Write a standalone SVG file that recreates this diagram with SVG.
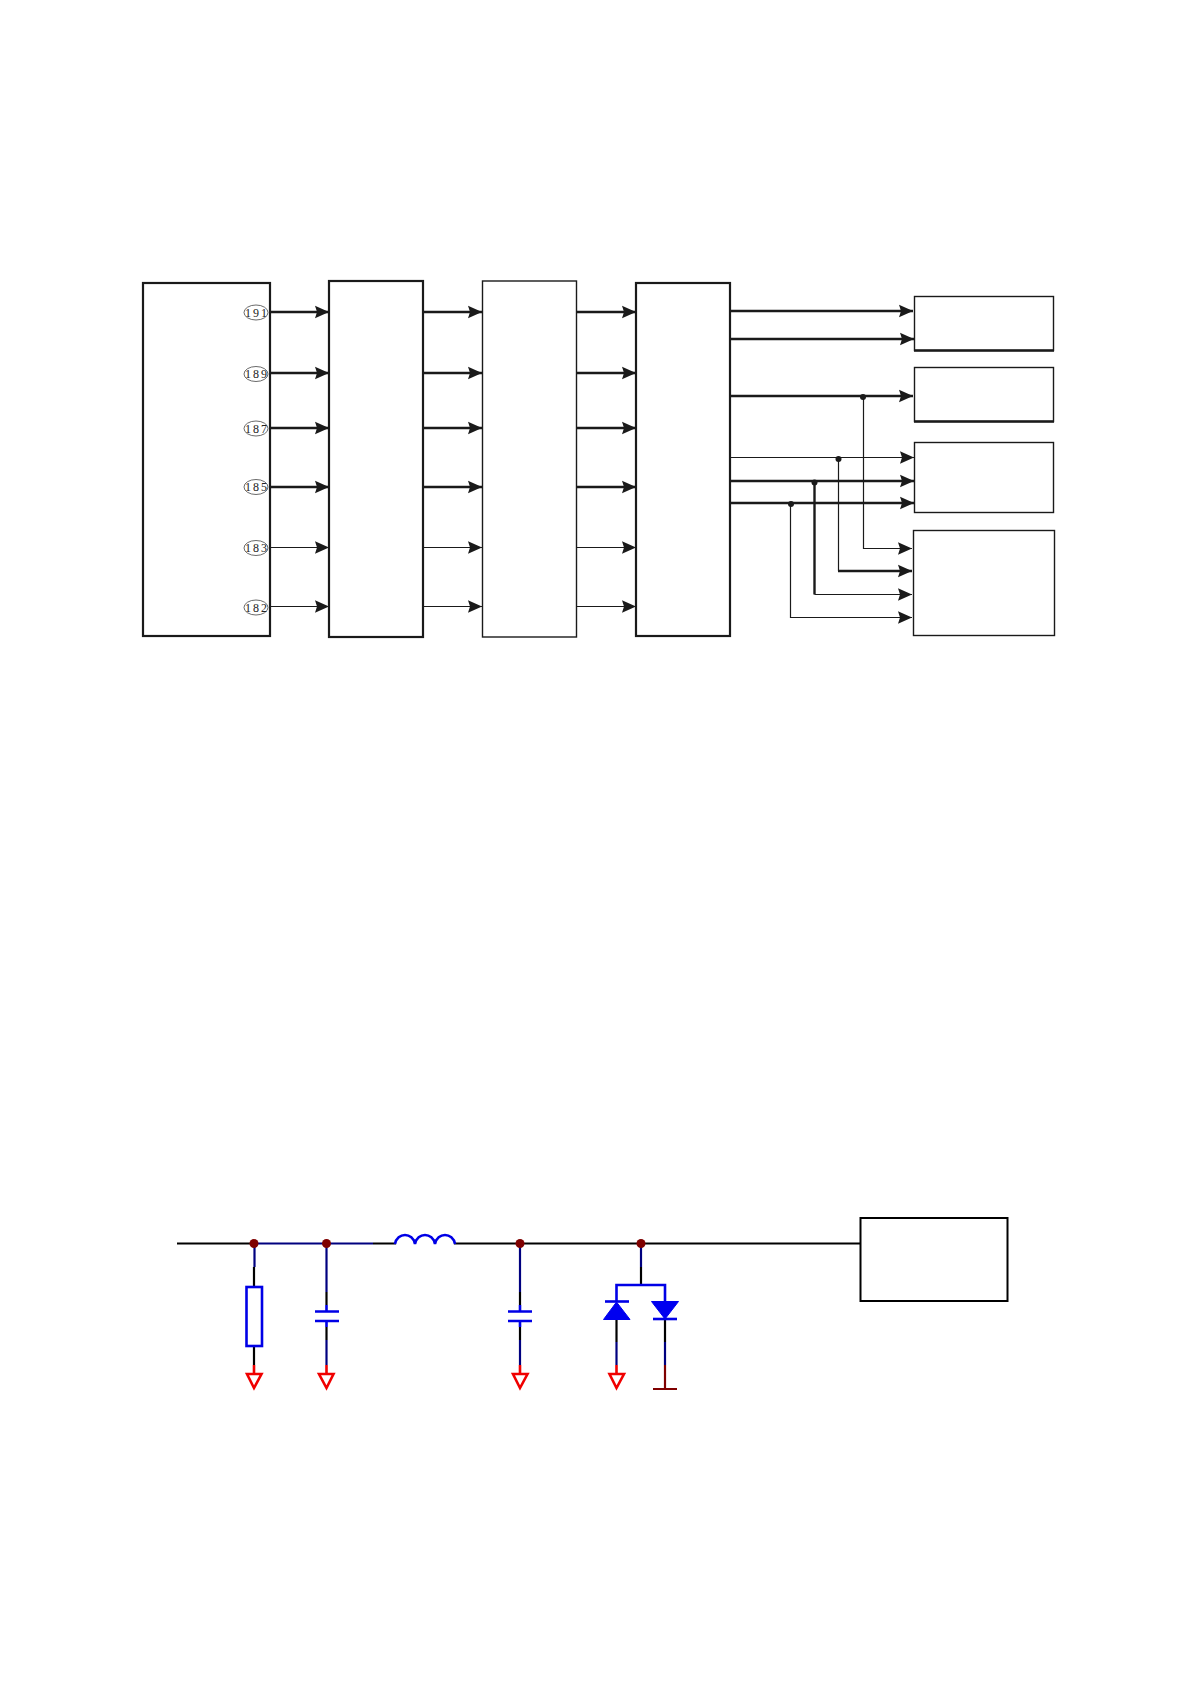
<svg xmlns="http://www.w3.org/2000/svg" width="1192" height="1684" viewBox="0 0 1192 1684">
<style>
.b{fill:#fff;stroke:#1a1a1a}
.w2{stroke-width:2.2}
.w1{stroke-width:1.4}
.tk{fill:none;stroke:#1a1a1a;stroke-width:2.4;marker-end:url(#ah)}
.tn{fill:none;stroke:#1a1a1a;stroke-width:1.2;marker-end:url(#ah)}
.ln{fill:none;stroke:#1a1a1a;stroke-width:1.2}
.lnt{fill:none;stroke:#1a1a1a;stroke-width:2.4}
.dot{fill:#1a1a1a}
.e{fill:#fff;stroke:#444;stroke-width:.8}
.t{font-family:"Liberation Serif","Times New Roman",serif;font-size:12px;letter-spacing:2px;fill:#222;text-anchor:middle}
.k{fill:none;stroke:#000;stroke-width:2.2}
.n{fill:none;stroke:#00007f;stroke-width:2.2}
.u{fill:none;stroke:#0000e6;stroke-width:2.6}
.r{fill:none;stroke:#f00000;stroke-width:2.6}
.m{fill:none;stroke:#7f0000;stroke-width:2.2}
.j{fill:#7f0000}
.f{fill:#0000f0;stroke:#0000f0;stroke-width:1}
</style>
<defs>
<marker id="ah" markerUnits="userSpaceOnUse" markerWidth="16" markerHeight="14" refX="14" refY="7" orient="auto">
<path d="M0 .7 L14 7 L0 13.300 L2 7Z" fill="#1a1a1a"/>
</marker>
</defs>

<g id="block-1"><rect class="b w2" x="143" y="283" width="127" height="353"/></g>
<g id="block-2"><rect class="b w2" x="329" y="281" width="94" height="356"/></g>
<g id="block-3"><rect class="b w1" x="482.500" y="281" width="94" height="356"/></g>
<g id="block-4"><rect class="b w2" x="636" y="283" width="94" height="353"/></g>
<g id="out-1"><rect class="b w1" x="914.500" y="296.500" width="139" height="54"/><path d="M914 350.500H1054" class="lnt"/></g>
<g id="out-2"><rect class="b w1" x="914.500" y="367.500" width="139" height="54"/><path d="M914 421.500H1054" class="lnt"/></g>
<g id="out-3"><rect class="b w1" x="914.500" y="442.500" width="139" height="70"/></g>
<g id="out-4"><rect class="b w1" x="913.500" y="530.500" width="141" height="105"/></g>

<g id="connectors">
<path class="tk" d="M270 312H329"/><path class="tk" d="M270 373H329"/><path class="tk" d="M270 428H329"/><path class="tk" d="M270 487H329"/><path class="tn" d="M270 547.500H329"/><path class="tn" d="M270 606.500H329"/>
<path class="tk" d="M423 312H482"/><path class="tk" d="M423 373H482"/><path class="tk" d="M423 428H482"/><path class="tk" d="M423 487H482"/><path class="tn" d="M423 547.500H482"/><path class="tn" d="M423 606.500H482"/>
<path class="tk" d="M577 312H636"/><path class="tk" d="M577 373H636"/><path class="tk" d="M577 428H636"/><path class="tk" d="M577 487H636"/><path class="tn" d="M577 547.500H636"/><path class="tn" d="M577 606.500H636"/>
<path class="tk" d="M730 311H913"/><path class="tk" d="M730 339H914"/><path class="tk" d="M730 396H913"/>
<path class="tn" d="M730 457.500H914"/><path class="tk" d="M730 481H914"/><path class="tk" d="M730 503H914"/>
<path class="tn" d="M863.500 397V548.500H912"/>
<path class="ln" d="M838.500 459V571"/><path class="tk" d="M838 571H912"/>
<path class="lnt" d="M814.500 482V594.500"/><path class="tn" d="M814.500 594.500H912"/>
<path class="tn" d="M790.500 504V617.500H912"/>
<circle class="dot" cx="863" cy="397" r="3"/><circle class="dot" cx="838.500" cy="459" r="3"/><circle class="dot" cx="814.500" cy="482.500" r="3"/><circle class="dot" cx="791" cy="504" r="3"/>
</g>

<g id="pin-191"><ellipse class="e" cx="256" cy="312.500" rx="12" ry="7.500"/><text class="t" x="257" y="316.500">191</text></g>
<g id="pin-189"><ellipse class="e" cx="256" cy="374" rx="12" ry="7.500"/><text class="t" x="257" y="378">189</text></g>
<g id="pin-187"><ellipse class="e" cx="256" cy="428.500" rx="12" ry="7.500"/><text class="t" x="257" y="432.500">187</text></g>
<g id="pin-185"><ellipse class="e" cx="256" cy="487" rx="12" ry="7.500"/><text class="t" x="257" y="491">185</text></g>
<g id="pin-183"><ellipse class="e" cx="256" cy="548" rx="12" ry="7.500"/><text class="t" x="257" y="552">183</text></g>
<g id="pin-182"><ellipse class="e" cx="256" cy="607.500" rx="12" ry="7.500"/><text class="t" x="257" y="611.500">182</text></g>

<g id="circuit-wires">
<path class="k" d="M177 1243.500H254M373 1243.500H396M454 1243.500H860"/>
<path class="n" d="M254 1243.500H373"/>
<path class="n" d="M254.500 1243.500V1267"/><path class="k" d="M254 1267V1287M254 1346V1365"/>
<path class="n" d="M326.500 1243.500V1292"/><path class="k" d="M326.500 1292V1305M326.500 1327V1340"/><path class="n" d="M326.500 1340V1365"/>
<path class="n" d="M520 1243.500V1292"/><path class="k" d="M520 1292V1305M520 1327V1340"/><path class="n" d="M520 1340V1365"/>
<path class="n" d="M641 1243.500V1267"/><path class="k" d="M641 1267V1285"/>
<path class="k" d="M616.500 1320V1342M665 1320V1342"/><path class="n" d="M616.500 1342V1365M665 1342V1365"/>
</g>
<g id="resistor"><rect class="u" x="246.500" y="1287" width="15.500" height="59"/></g>
<g id="cap-1"><path class="u" d="M326.500 1305V1311M326.500 1321V1327"/><path class="u" d="M315 1311.500H339M315 1321H339"/></g>
<g id="cap-2"><path class="u" d="M520 1305V1311M520 1321V1327"/><path class="u" d="M508 1311.500H532M508 1321H532"/></g>
<g id="inductor"><path class="u" d="M395 1244C397 1232 413 1232 415 1244C417 1232 433 1232 435 1244C437 1232 453 1232 455 1244"/></g>
<g id="diodes">
<path class="u" d="M616.500 1302V1285H665V1302"/>
<path class="u" d="M605 1301.500H629"/><path class="f" d="M616.500 1302L603.500 1319.500H630Z"/>
<path class="f" d="M651.500 1301.500H678.500L665 1319Z"/><path class="u" d="M653 1319H677"/>
</g>
<g id="grounds">
<path class="r" d="M254 1365V1374M247 1374H261.500L254 1388Z"/>
<path class="r" d="M326.500 1365V1374M319 1374H333.500L326.500 1388Z"/>
<path class="r" d="M520 1365V1374M513 1374H527.500L520 1388Z"/>
<path class="r" d="M616.500 1365V1374M609.500 1374H624L616.500 1388Z"/>
<path class="m" d="M665 1365V1389M653 1389H677"/>
</g>
<g id="junctions">
<circle class="j" cx="254" cy="1243.500" r="4.500"/><circle class="j" cx="326.500" cy="1243.500" r="4.500"/><circle class="j" cx="520" cy="1243.500" r="4.500"/><circle class="j" cx="641" cy="1243.500" r="4.500"/>
</g>
<g id="load"><rect x="860.500" y="1218" width="147" height="83" fill="#fff" stroke="#000" stroke-width="2"/></g>
</svg>
